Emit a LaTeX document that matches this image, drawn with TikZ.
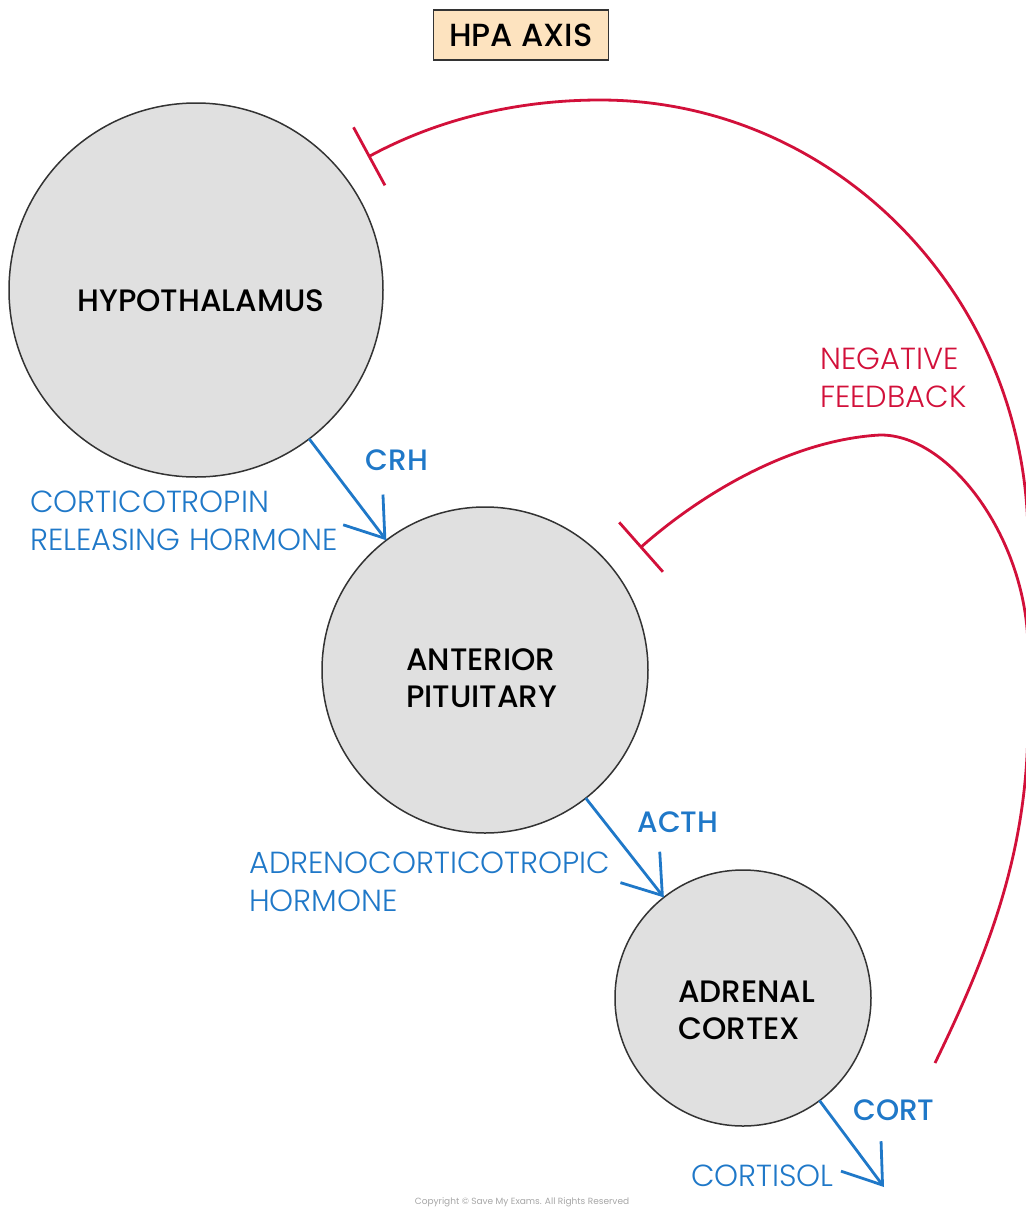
\documentclass[tikz,border=0pt]{standalone}
\usepackage{fontspec}
\setmainfont{Poppins}
\newfontfamily\lightf{Poppins Light}
\newfontfamily\medf{Poppins Medium}
\usetikzlibrary{arrows.meta}
\definecolor{hblue}{HTML}{1F78C8}
\definecolor{hred}{HTML}{D2103A}
\definecolor{cfill}{HTML}{E0E0E0}
\definecolor{tfill}{HTML}{FDE3BF}
\tikzset{
  organ/.style={circle, draw=black!80, line width=1.5pt, fill=cfill, inner sep=0pt, outer sep=0pt},
  organtext/.style={font=\medf\fontsize{31}{37}\selectfont, text=black, align=left},
  hormone/.style={line width=2.8pt, draw=hblue, -{Straight Barb[length=36pt,width=50pt]}},
  abbr/.style={font=\medf\fontsize{29.5}{36}\selectfont, text=hblue},
  fullname/.style={font=\lightf\fontsize{30.5}{38}\selectfont, text=hblue, align=left, anchor=west, inner sep=0pt},
  feedback/.style={line width=2.8pt, draw=hred},
}
\begin{document}
\begin{tikzpicture}[x=1pt,y=-1pt]
\useasboundingbox (0,0) rectangle (1026,1211);
% title
\node[draw=black!80, line width=1.8pt, fill=tfill, minimum width=175pt, minimum height=50pt, font=\medf\fontsize{32}{36}\selectfont] (title) at (521,35) {HPA AXIS};
% organs
\node[organ, minimum size=374pt] (hyp) at (196,290) {};
\node[organ, minimum size=326pt] (pit) at (485,670) {};
\node[organ, minimum size=256pt] (adr) at (743,998) {};
\node[organtext] (hyptext) at (201,301) {HYPOTHALAMUS};
\node[organtext, anchor=west, inner sep=0pt] (pittext) at (406,678) {ANTERIOR\\PITUITARY};
\node[organtext, anchor=west, inner sep=0pt] (adrtext) at (678,1010) {ADRENAL\\CORTEX};
% hormones
\coordinate (cortend) at (884,1187);
\draw[hormone] (hyp) -- (pit);
\draw[hormone] (pit) -- (adr);
\draw[hormone] (adr) -- (cortend);
\node[abbr] (crh) at (397,460) {CRH};
\node[abbr] (acth) at (678,822) {ACTH};
\node[abbr] (cort) at (894,1110) {CORT};
\node[fullname] (crhfull) at (30,521) {CORTICOTROPIN\\RELEASING HORMONE};
\node[fullname] (acthfull) at (249,882) {ADRENOCORTICOTROPIC\\HORMONE};
\node[fullname] (cortfull) at (691,1176) {CORTISOL};
\node[fullname, text=hred] (nf) at (820,378) {NEGATIVE\\FEEDBACK};
% feedback loops
\coordinate (hypbar) at (368,157);
\coordinate (pitbar) at (640,548);
\coordinate (cortsrc) at (935,1063);
\begin{scope}
\clip (0,0) rectangle (1026,1211);
\draw[feedback, {Bar[width=66pt]}-] (hypbar) .. controls (440,118) and (520,100) .. (600,100)
  .. controls (836,100) and (1028,297) .. (1028,540) -- (1028,720)
  .. controls (1028,850) and (990,950) .. (cortsrc);
\draw[feedback, {Bar[width=66pt]}-] (pitbar) .. controls (700,495) and (790,440) .. (880,435)
  .. controls (950,434) and (1028,540) .. (1028,650) -- (1028,720);
\end{scope}
\node[font=\fontsize{9}{10}\selectfont, text=black!35] (copy) at (522,1202) {Copyright © Save My Exams. All Rights Reserved};
\end{tikzpicture}
\end{document}
